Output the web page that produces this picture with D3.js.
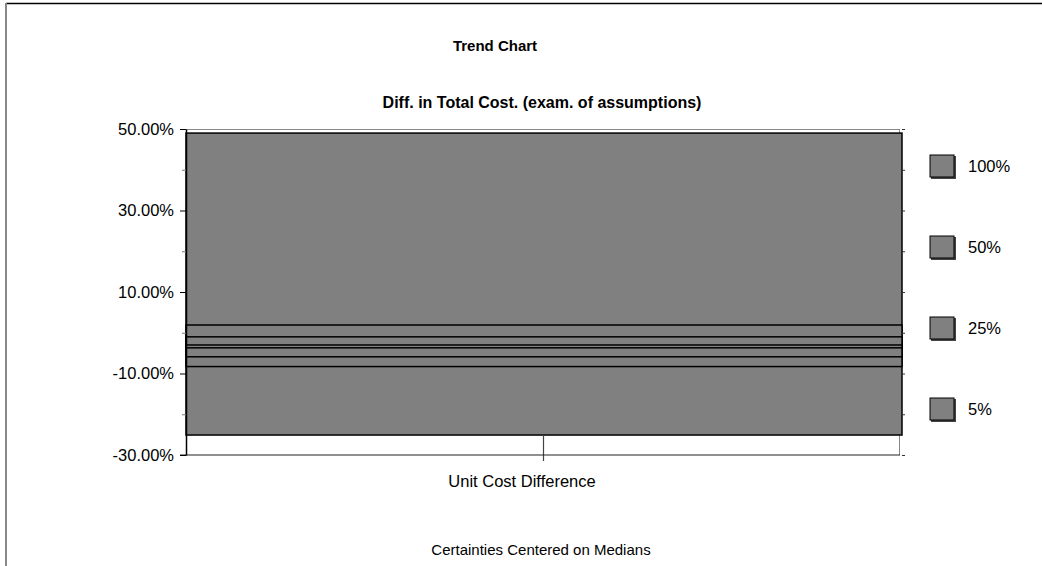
<!DOCTYPE html>
<html>
<head>
<meta charset="utf-8">
<script src="https://cdn.jsdelivr.net/npm/d3@7"></script>
<style>
  body { margin: 0; background: #fff; }
  svg { display: block; font-family: "Liberation Sans", Arial, sans-serif; }
  .tick-label { font-size: 16.5px; fill: #000; }
  .legend-label { font-size: 16.5px; fill: #000; }
</style>
</head>
<body>
<div id="chart"></div>
<script>
// certainty bands (percent), centered on medians
const categories  = ['Unit Cost Difference'];
const certainties = ['100%', '50%', '25%', '5%'];
const bandLow     = [-25.1, -8.3, -5.9, -3.7];
const bandHigh    = [49.0, 1.9, -1.0, -3.0];
const yTickLabels = [50, 30, 10, -10, -30];
const yMinorTicks = [40, 20, 0, -20];

const W = 1042, H = 566;
const m = { top: 129, right: 140, bottom: 111, left: 186 };

const svg = d3.select('#chart').append('svg')
  .attr('width', W)
  .attr('height', H);

// outer border (top + left only visible)
svg.append('line').attr('x1', 6).attr('x2', W).attr('y1', 3.5).attr('y2', 3.5)
  .attr('stroke', '#000').attr('stroke-width', 1.5);
svg.append('line').attr('x1', 6).attr('x2', 6).attr('y1', 3).attr('y2', H)
  .attr('stroke', '#888').attr('stroke-width', 2);

const x = d3.scaleBand()
  .domain(categories)
  .range([m.left, W - m.right - 2])
  .padding(0);

const y = d3.scaleLinear()
  .domain([-30, 50])
  .range([H - m.bottom, m.top]);

const fmt = d => d.toFixed(2) + '%';

// plot frame
const x0 = m.left, x1 = W - m.right - 2;
svg.append('line').attr('x1', x0 - 6).attr('x2', x1).attr('y1', y(50) + 0.5).attr('y2', y(50) + 0.5)
  .attr('stroke', '#888');
svg.append('line').attr('x1', x1 - 0.5).attr('x2', x1 - 0.5).attr('y1', y(50)).attr('y2', y(-30))
  .attr('stroke', '#888');

// bands
const bands = certainties.map((c, i) => ({ key: c, lo: bandLow[i], hi: bandHigh[i] }));
svg.selectAll('.band')
  .data(bands)
  .join('rect')
    .attr('class', 'band')
    .attr('x', d => x(categories[0]))
    .attr('width', x.bandwidth() + 2)
    .attr('y', d => y(d.hi))
    .attr('height', d => y(d.lo) - y(d.hi))
    .attr('fill', '#808080')
    .attr('stroke', '#000')
    .attr('stroke-width', 1.5);

// category tick
svg.append('line')
  .attr('x1', x(categories[0]) + x.bandwidth() / 2 + 0.5)
  .attr('x2', x(categories[0]) + x.bandwidth() / 2 + 0.5)
  .attr('y1', y(bandLow[0])).attr('y2', y(-30) + 6)
  .attr('stroke', '#444').attr('stroke-width', 1.2);

// bottom frame line
svg.append('line').attr('x1', x0 - 6).attr('x2', x1).attr('y1', y(-30)).attr('y2', y(-30))
  .attr('stroke', '#222').attr('stroke-width', 1.2);

// left axis
const yAxis = svg.append('g')
  .attr('transform', `translate(${x0},0)`)
  .call(d3.axisLeft(y).tickValues(yTickLabels).tickFormat(fmt).tickSize(6).tickSizeOuter(0).tickPadding(6));
yAxis.select('.domain').attr('stroke', '#000').attr('stroke-width', 1.5);
yAxis.selectAll('.tick text').attr('class', 'tick-label').attr('font-size', null).attr('font-family', null);
yAxis.selectAll('.tick line').attr('stroke', '#000');

const yMinor = svg.append('g')
  .attr('transform', `translate(${x0},0)`)
  .call(d3.axisLeft(y).tickValues(yMinorTicks).tickFormat('').tickSize(4).tickSizeOuter(0));
yMinor.select('.domain').remove();
yMinor.selectAll('.tick line').attr('stroke', '#777');

// right axis ticks
const yRight = svg.append('g')
  .attr('transform', `translate(${x1 + 2},0)`)
  .call(d3.axisRight(y).tickValues(yTickLabels.concat(yMinorTicks)).tickFormat('').tickSize(3).tickSizeOuter(0));
yRight.select('.domain').remove();
yRight.selectAll('.tick line').attr('stroke', '#333');

// titles
svg.append('text').attr('x', 495).attr('y', 51).attr('text-anchor', 'middle')
  .attr('font-size', 15).attr('font-weight', 'bold').text('Trend Chart');
svg.append('text').attr('x', 542).attr('y', 108).attr('text-anchor', 'middle')
  .attr('font-size', 16).attr('font-weight', 'bold').text('Diff. in Total Cost. (exam. of assumptions)');
svg.append('text').attr('x', 522).attr('y', 487).attr('text-anchor', 'middle')
  .attr('font-size', 16.5).text(categories[0]);
svg.append('text').attr('x', 541).attr('y', 555).attr('text-anchor', 'middle')
  .attr('font-size', 15).text('Certainties Centered on Medians');

// legend
const legend = svg.append('g').attr('transform', 'translate(930,155)');
const li = legend.selectAll('.legend-item')
  .data(certainties)
  .join('g')
    .attr('class', 'legend-item')
    .attr('transform', (d, i) => `translate(0,${i * 81})`);
li.append('rect').attr('x', 1).attr('y', 1).attr('width', 25).attr('height', 23).attr('fill', '#444');
li.append('rect').attr('width', 24).attr('height', 22)
  .attr('fill', '#808080').attr('stroke', '#000').attr('stroke-width', 1);
li.append('text').attr('class', 'legend-label').attr('x', 38).attr('y', 17).text(d => d);
</script>
</body>
</html>
